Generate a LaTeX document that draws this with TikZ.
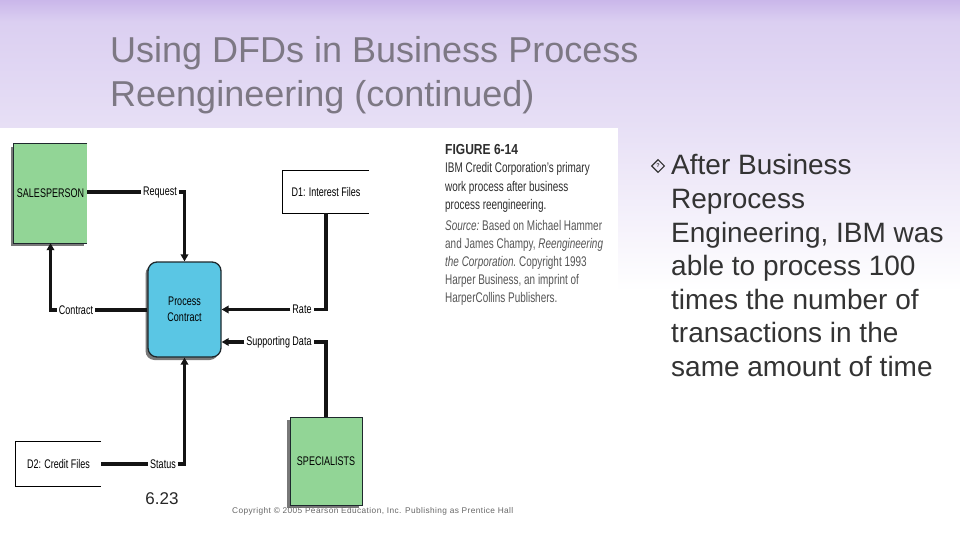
\documentclass[tikz,border=0pt]{standalone}
\usepackage{fontspec}
\setmainfont{Liberation Sans}
\newfontfamily\cond[FakeStretch=0.72]{Liberation Sans}
\newfontfamily\capf[FakeStretch=0.71]{Liberation Sans}
\newfontfamily\condb[FakeStretch=0.83]{Liberation Sans}
\newfontfamily\spaced[LetterSpace=5]{Liberation Sans}
\usetikzlibrary{arrows.meta,shapes.geometric,shadows}

\definecolor{lavA}{RGB}{202,183,234}
\definecolor{lavB}{RGB}{219,207,241}
\definecolor{lavC}{RGB}{230,222,245}
\definecolor{titlegray}{RGB}{125,120,132}
\definecolor{bodygray}{RGB}{51,51,51}
\definecolor{entgreen}{RGB}{146,213,150}
\definecolor{procblue}{RGB}{90,198,228}
\definecolor{edgedark}{RGB}{30,40,45}
\definecolor{capdark}{RGB}{45,45,45}
\definecolor{capsrc}{RGB}{85,85,85}
\definecolor{shadowgray}{RGB}{120,120,120}

% visible part of the shading is 25bp..75bp
\pgfdeclareverticalshading{slidebg}{100bp}{color(0bp)=(white); color(48bp)=(white); color(64bp)=(lavC); color(73bp)=(lavB); color(75bp)=(lavA); color(100bp)=(lavA)}

\tikzset{
  lbl/.style={font=\cond\fontsize{12.5}{14}\selectfont, text=black, inner sep=2pt},
  flow/.style={line width=3.4pt, black!92},
  arr/.style={flow, -{Triangle[length=7pt,width=7.5pt]}},
  entity/.style={inner sep=0pt, fill=entgreen, font=\cond\fontsize{12.5}{14}\selectfont,
     drop shadow={shadow xshift=-3pt, shadow yshift=-3pt, fill=shadowgray, opacity=1}},
  entedge/.style={line width=1pt, edgedark},
  store/.style={inner sep=0pt, fill=white, font=\cond\fontsize{12.5}{14}\selectfont},
  storeedge/.style={line width=0.8pt, black},
  proc/.style={inner sep=0pt, draw=edgedark, line width=1.3pt, fill=procblue, rounded corners=9pt,
     align=center, font=\cond\fontsize{12.5}{15.5}\selectfont,
     drop shadow={shadow xshift=-2.5pt, shadow yshift=-3pt, fill=shadowgray, opacity=1}},
  titletext/.style={anchor=base west, inner sep=0pt, text=titlegray, font=\fontsize{36}{43}\selectfont},
  bullettext/.style={anchor=base west, inner sep=0pt, text=bodygray, font=\fontsize{28}{33}\selectfont},
  captext/.style={anchor=base west, inner sep=0pt, font=\capf\fontsize{14}{16}\selectfont},
}

\begin{document}
\begin{tikzpicture}[x=1pt,y=-1pt]
\useasboundingbox (0,0) rectangle (960,540);
\shade[shading=slidebg] (0,0) rectangle (960,540);
\fill[white] (0,128) rectangle (618,540);

% title
\node[titletext] (t1) at (110,63) {Using DFDs in Business Process};
\node[titletext] (t2) at (110,107) {Reengineering (continued)};

% bullet
\node[diamond, draw=bodygray, line width=1.1pt, minimum width=13pt, minimum height=13pt, inner sep=0pt,
      font=\fontsize{5.5}{6}\selectfont\bfseries, text=bodygray] (bul) at (658,166) {?};
\foreach \txt [count=\i from 0] in {After Business, Reprocess, {Engineering, IBM was}, able to process 100,
   times the number of, transactions in the, same amount of time}
  \node[bullettext] (b\i) at (671,175+33.5*\i) {\txt};

% caption
\node[captext, font=\condb\bfseries\fontsize{14.5}{16}\selectfont, text=capdark] (cap0) at (445,155) {FIGURE 6-14};
\node[captext, text=capdark] (cap1) at (445,173) {IBM Credit Corporation’s primary};
\node[captext, text=capdark] (cap2) at (445,191.5) {work process after business};
\node[captext, text=capdark] (cap3) at (445,209) {process reengineering.};
\node[captext, text=capsrc] (cap4) at (445,230) {\itshape Source:\upshape\ Based on Michael Hammer};
\node[captext, text=capsrc] (cap5) at (445,248) {and James Champy, \itshape Reengineering};
\node[captext, text=capsrc] (cap6) at (445,266) {\itshape the Corporation.\upshape\ Copyright 1993};
\node[captext, text=capsrc] (cap7) at (445,284) {Harper Business, an imprint of};
\node[captext, text=capsrc] (cap8) at (445,302.5) {HarperCollins Publishers.};

% entities and stores
\node[entity, minimum width=73pt, minimum height=99pt] (sales) at (50.5,193.5) {SALESPERSON};
\draw[entedge] (sales.north east) -- (sales.north west) -- (sales.south west) -- (sales.south east);
\node[entity, draw=edgedark, line width=1pt, minimum width=72pt, minimum height=88pt] (spec) at (326,461) {SPECIALISTS};
\node[proc, minimum width=73pt, minimum height=95pt] (proc) at (184.5,309.5) {Process\\Contract};
\node[store, minimum width=86pt, minimum height=42pt] (d1) at (326,192) {D1: Interest Files};
\draw[storeedge] (d1.north east) -- (d1.north west) -- (d1.south west) -- (d1.south east);
\node[store, minimum width=85pt, minimum height=44pt] (d2) at (58.5,464) {D2: Credit Files};
\draw[storeedge] (d2.north east) -- (d2.north west) -- (d2.south west) -- (d2.south east);

% flows
\node[lbl] (req) at (160,192) {Request};
\draw[flow] (sales.east |- req.west) -- (req.west);
\draw[arr] (req.east) -| (proc.north);

\node[lbl] (con) at (76,310) {Contract};
\draw[flow] (proc.west |- con.east) -- (con.east);
\draw[arr] (con.west) -| (sales.south);

\node[lbl] (rate) at (302,309.5) {Rate};
\draw[flow] (d1.south) |- (rate.east);
\draw[arr] (rate.west) -- (proc.east |- rate.west);

\node[lbl] (sup) at (279,342) {Supporting Data};
\draw[flow] (spec.north) |- (sup.east);
\draw[arr] (sup.west) -- (proc.east |- sup.west);

\node[lbl] (stat) at (163,464) {Status};
\draw[flow] (d2.east) -- (stat.west);
\draw[arr] (stat.east) -| (proc.south);

% footer
\node[inner sep=0pt, font=\fontsize{17}{20}\selectfont, text=black!85] (pg) at (162,499) {6.23};
\node[inner sep=0pt, anchor=base west, font=\spaced\fontsize{8.3}{10}\selectfont, text=black!60] (copy) at (232,513) {Copyright © 2005 Pearson Education, Inc. Publishing as Prentice Hall};
\end{tikzpicture}
\end{document}
